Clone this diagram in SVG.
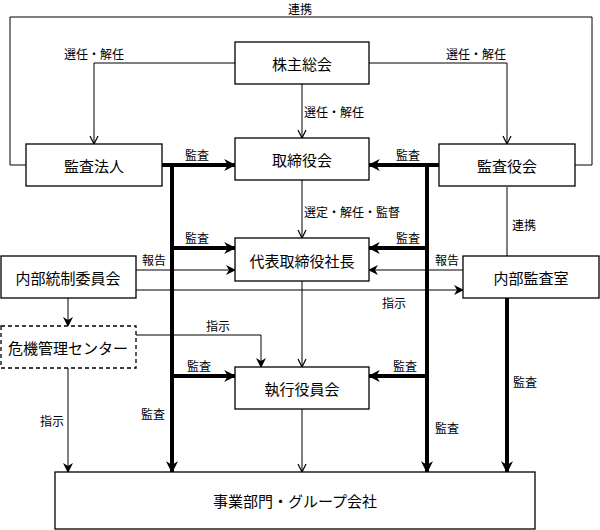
<svg xmlns="http://www.w3.org/2000/svg" width="600" height="530" viewBox="0 0 600 530">
<style>
.box{fill:#fff;stroke:#000;stroke-width:1.3}
.dash{stroke-dasharray:4 3}
.t{font-family:"Noto Sans CJK JP","Noto Sans",sans-serif;font-size:15px;fill:#000;text-anchor:middle;dominant-baseline:central}
.l{font-family:"Noto Sans CJK JP","Noto Sans",sans-serif;font-size:12px;fill:#000;dominant-baseline:central}
.c{text-anchor:middle}
.thin{fill:none;stroke:#000;stroke-width:1}
.thick{fill:none;stroke:#000;stroke-width:4}
</style>
<defs>
<marker id="open" viewBox="0 0 10 10" refX="9" refY="5" markerWidth="10" markerHeight="10" markerUnits="userSpaceOnUse" orient="auto"><path d="M1,1 L9,5 L1,9" fill="none" stroke="#000" stroke-width="1.2"/></marker>
<marker id="fill" viewBox="0 0 10 10" refX="9" refY="5" markerWidth="10" markerHeight="10" markerUnits="userSpaceOnUse" orient="auto"><path d="M0,0 L10,5 L0,10 L3,5 Z" fill="#000"/></marker>
<marker id="big" viewBox="0 0 10 10" refX="9" refY="5" markerWidth="12" markerHeight="12" markerUnits="userSpaceOnUse" orient="auto"><path d="M0,0 L10,5 L0,10 L3,5 Z" fill="#000"/></marker>
</defs>
<rect width="600" height="530" fill="#fff"/>
<g id="connectors">
<path class="thin" d="M26,165 H10 V17 H592 V165 H575"/>
<text class="l c" x="300" y="8">連携</text>
<path class="thin" d="M235,63 H94 V144" marker-end="url(#open)"/>
<text class="l c" x="94" y="53">選任・解任</text>
<path class="thin" d="M369,63 H507 V144" marker-end="url(#open)"/>
<text class="l c" x="476" y="53">選任・解任</text>
<path class="thin" d="M302,84 V138" marker-end="url(#open)"/>
<text class="l" x="304" y="111">選任・解任</text>
<path class="thin" d="M302,180 V238" marker-end="url(#open)"/>
<text class="l" x="304" y="211">選定・解任・監督</text>
<path class="thin" d="M302,281 V367" marker-end="url(#open)"/>
<path class="thin" d="M302,409 V472" marker-end="url(#open)"/>
<path class="thin" d="M507,187 V256"/>
<text class="l" x="512" y="224">連携</text>
<path class="thin" d="M136,270 H235" marker-end="url(#fill)"/>
<text class="l c" x="154" y="259">報告</text>
<path class="thin" d="M463,270 H369" marker-end="url(#fill)"/>
<text class="l c" x="447" y="259">報告</text>
<path class="thin" d="M136,290 H463" marker-end="url(#fill)"/>
<text class="l c" x="394" y="302">指示</text>
<path class="thin" d="M68,298 V326" marker-end="url(#fill)"/>
<path class="thin" d="M136,335 H261 V367" marker-end="url(#fill)"/>
<text class="l c" x="218" y="325">指示</text>
<path class="thin" d="M68,368 V472" marker-end="url(#fill)"/>
<text class="l c" x="52" y="420">指示</text>
<path class="thick" d="M162,165 H235" marker-end="url(#big)"/>
<path class="thick" d="M172,165 V472" marker-end="url(#big)"/>
<path class="thick" d="M172,248 H235" marker-end="url(#big)"/>
<path class="thick" d="M172,376 H235" marker-end="url(#big)"/>
<text class="l c" x="197" y="154">監査</text>
<text class="l c" x="197" y="237">監査</text>
<text class="l c" x="199" y="365">監査</text>
<text class="l c" x="153" y="413">監査</text>
<path class="thick" d="M439,165 H369" marker-end="url(#big)"/>
<path class="thick" d="M427,165 V472" marker-end="url(#big)"/>
<path class="thick" d="M427,248 H369" marker-end="url(#big)"/>
<path class="thick" d="M427,376 H369" marker-end="url(#big)"/>
<text class="l c" x="408" y="154">監査</text>
<text class="l c" x="408" y="237">監査</text>
<text class="l c" x="405" y="365">監査</text>
<text class="l c" x="447" y="427">監査</text>
<path class="thick" d="M507,298 V472" marker-end="url(#big)"/>
<text class="l c" x="525" y="381">監査</text>
</g>
<g id="kabunushi"><rect class="box" x="235" y="42" width="134" height="42"/><text class="t" x="302" y="63">株主総会</text></g>
<g id="torishimariyakukai"><rect class="box" x="235" y="138" width="134" height="42"/><text class="t" x="302" y="159">取締役会</text></g>
<g id="kansahojin"><rect class="box" x="26" y="144" width="136" height="42"/><text class="t" x="94" y="165">監査法人</text></g>
<g id="kansayakukai"><rect class="box" x="439" y="144" width="136" height="42"/><text class="t" x="507" y="165">監査役会</text></g>
<g id="daihyo"><rect class="box" x="235" y="238" width="134" height="43"/><text class="t" x="302" y="260">代表取締役社長</text></g>
<g id="naibutosei"><rect class="box" x="1" y="256" width="135" height="42"/><text class="t" x="68" y="277">内部統制委員会</text></g>
<g id="naibukansa"><rect class="box" x="463" y="256" width="136" height="42"/><text class="t" x="531" y="277">内部監査室</text></g>
<g id="kiki"><rect class="box dash" x="1" y="326" width="135" height="42"/><text class="t" x="68" y="347">危機管理センター</text></g>
<g id="shikko"><rect class="box" x="235" y="367" width="134" height="42"/><text class="t" x="302" y="388">執行役員会</text></g>
<g id="jigyo"><rect class="box" x="55" y="472" width="480" height="57"/><text class="t" x="295" y="500">事業部門・グループ会社</text></g>
</svg>
